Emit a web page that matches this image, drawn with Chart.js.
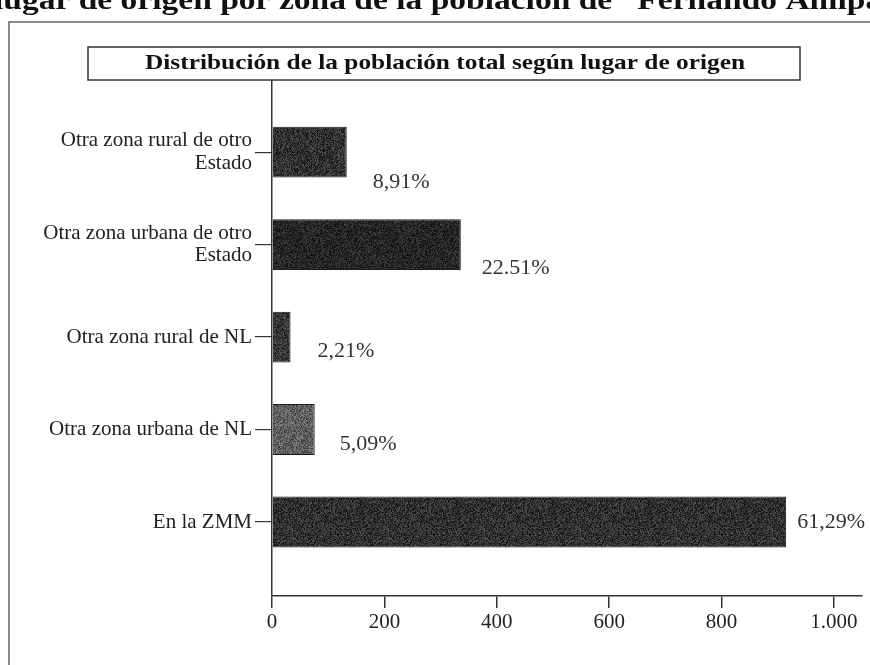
<!DOCTYPE html>
<html>
<head>
<meta charset="utf-8">
<script src="https://cdn.jsdelivr.net/npm/chart.js@4/dist/chart.umd.min.js"></script>
<style>
  html, body { margin: 0; padding: 0; background: #fff; }
  canvas { display: block; }
</style>
</head>
<body>
<canvas id="myChart" width="870" height="665"></canvas>
<script>
/* Distribución de la población total según lugar de origen */

let categories = [
  ["Otra zona rural de otro", "Estado"],
  ["Otra zona urbana de otro", "Estado"],
  "Otra zona rural de NL",
  "Otra zona urbana de NL",
  "En la ZMM"
];
let poblacion = [133, 336, 33, 76, 915];
let porcentajes = ["8,91%", "22.51%", "2,21%", "5,09%", "61,29%"];
let xTicks = [0, 200, 400, 600, 800, 1000];

let serif = "'Liberation Serif', 'DejaVu Serif', serif";

// grainy grey fill like the scanned bars
function grain(base, spread, seed) {
  let c = document.createElement("canvas");
  c.width = 96;
  c.height = 96;
  let g = c.getContext("2d");
  let img = g.createImageData(96, 96);
  let s = seed;
  for (let i = 0; i < 96 * 96; i++) {
    s = (s * 1103515245 + 12345) & 0x7fffffff;
    let v = base + ((s % 1000) / 1000 - 0.5) * spread;
    v = Math.max(0, Math.min(255, v));
    img.data[i * 4] = v;
    img.data[i * 4 + 1] = v;
    img.data[i * 4 + 2] = v;
    img.data[i * 4 + 3] = 255;
  }
  g.putImageData(img, 0, 0);
  return g.createPattern(c, "repeat");
}

let fills = [
  grain(50, 70, 7),
  grain(38, 55, 11),
  grain(55, 70, 23),
  grain(95, 80, 31),
  grain(48, 70, 43)
];

let pageDecor = {
  id: "pageDecor",
  beforeDraw(chart) {
    let ctx = chart.ctx;
    ctx.save();
    ctx.fillStyle = "#fff";
    ctx.fillRect(0, 0, chart.width, chart.height);

    // heading of the page, cut at the top
    ctx.fillStyle = "#111";
    ctx.font = "bold 28px " + serif;
    ctx.textBaseline = "alphabetic";
    let head = "lugar de origen por zona de la población de \u201CFernando Amipa\u201D";
    let w = ctx.measureText(head).width;
    ctx.translate(-6, 9);
    ctx.scale(905 / w, 1);
    ctx.fillText(head, 0, 0);
    ctx.restore();

    // outer frame
    ctx.save();
    ctx.strokeStyle = "#666";
    ctx.lineWidth = 1.5;
    ctx.beginPath();
    ctx.moveTo(9, chart.height);
    ctx.lineTo(9, 22);
    ctx.lineTo(chart.width, 22);
    ctx.stroke();
    ctx.restore();
  },
  afterDraw(chart) {
    let ctx = chart.ctx;
    ctx.save();
    ctx.fillStyle = "#fff";
    ctx.fillRect(88, 47, 712, 33);
    ctx.strokeStyle = "#333";
    ctx.lineWidth = 1.5;
    ctx.strokeRect(88, 47, 712, 33);
    ctx.fillStyle = "#111";
    ctx.font = "bold 21px " + serif;
    ctx.textBaseline = "middle";
    let t = "Distribución de la población total según lugar de origen";
    let w = ctx.measureText(t).width;
    ctx.translate(145, 64);
    ctx.scale(600 / w, 1);
    ctx.fillText(t, 0, 0);
    ctx.restore();
  }
};

let pctLabels = {
  id: "pctLabels",
  afterDatasetsDraw(chart) {
    let ctx = chart.ctx;
    let meta = chart.getDatasetMeta(0);
    let shift = [[26, 30], [21, 24], [27, 14], [25, 15], [11, 0]];
    ctx.save();
    ctx.fillStyle = "#333";
    ctx.font = "22px " + serif;
    ctx.textAlign = "left";
    ctx.textBaseline = "middle";
    meta.data.forEach(function (bar, i) {
      ctx.fillText(porcentajes[i], bar.x + shift[i][0], bar.y + shift[i][1]);
    });
    ctx.restore();
  }
};

new Chart("myChart", {
  type: "bar",
  data: {
    datasets: [
      {
        data: poblacion.map(function (v, i) { return { x: v, y: i }; }),
        backgroundColor: fills,
        borderColor: "#1a1a1a",
        borderWidth: 1,
        barPercentage: 0.55,
        categoryPercentage: 1
      }
    ]
  },
  options: {
    indexAxis: "y",
    responsive: false,
    animation: false,
    events: [],
    layout: { padding: { top: 80, right: 8, left: 0, bottom: 0 } },
    plugins: {
      legend: { display: false },
      tooltip: { enabled: false },
      title: { display: false }
    },
    scales: {
      x: {
        type: "linear",
        position: "bottom",
        min: 0,
        max: 1050,
        border: { color: "#333", width: 1.5 },
        grid: { drawOnChartArea: false, tickLength: 12, color: "#333", lineWidth: 1.5 },
        ticks: {
          color: "#222",
          font: { family: serif, size: 21 },
          padding: 2,
          callback: function (v) {
            return v >= 1000 ? "1.000" : String(v);
          }
        },
        afterBuildTicks: function (s) {
          s.ticks = xTicks.map(function (v) { return { value: v }; });
        },
        afterFit: function (s) { s.height = 69; }
      },
      y: {
        type: "linear",
        reverse: true,
        offset: false,
        min: -0.78,
        max: 4.8,
        border: { color: "#333", width: 1.5 },
        grid: { offset: false, drawOnChartArea: false, tickLength: 17, color: "#333", lineWidth: 1.2 },
        ticks: {
          color: "#222",
          font: { family: serif, size: 21, lineHeight: 1.08 },
          padding: 3,
          autoSkip: false,
          callback: function (v) { return categories[v]; }
        },
        afterBuildTicks: function (s) {
          s.ticks = categories.map(function (c, i) { return { value: i }; });
        },
        afterFit: function (s) { s.width = 272; }
      }
    }
  },
  plugins: [pageDecor, pctLabels]
});
</script>
</body>
</html>
